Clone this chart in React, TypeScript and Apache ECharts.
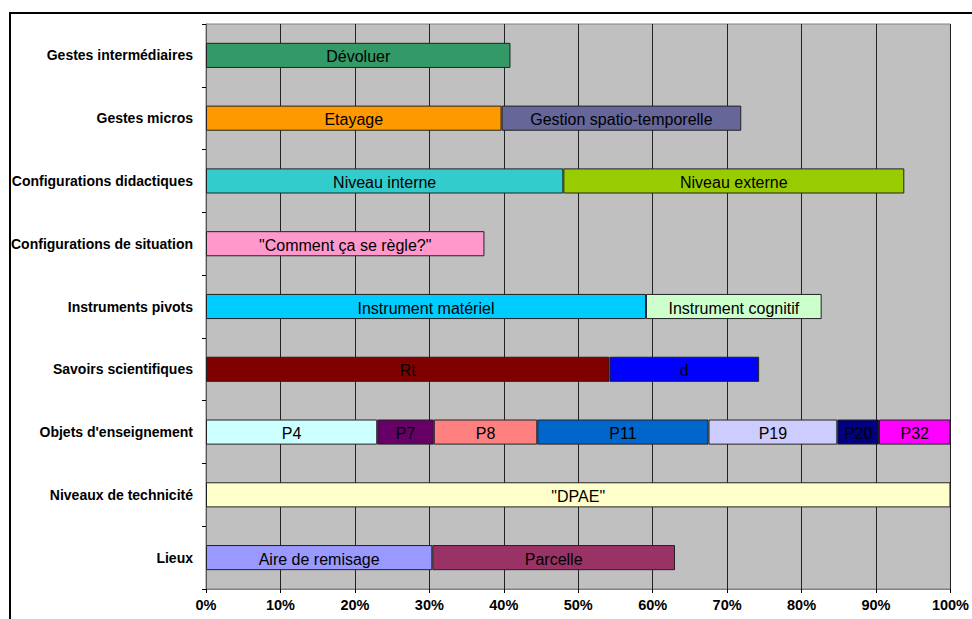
import React, { useEffect, useRef } from "react";
import * as echarts from "echarts";

const categories = [
  "Gestes intermédiaires",
  "Gestes micros",
  "Configurations didactiques",
  "Configurations de situation",
  "Instruments pivots",
  "Savoirs scientifiques",
  "Objets d'enseignement",
  "Niveaux de technicité",
  "Lieux",
];

const segmentNames = [
  "Dévoluer",
  "Etayage",
  "Gestion spatio-temporelle",
  "Niveau interne",
  "Niveau externe",
  "\"Comment ça se règle?\"",
  "Instrument matériel",
  "Instrument cognitif",
  "Rt",
  "d",
  "P4",
  "P7",
  "P8",
  "P11",
  "P19",
  "P20",
  "P32",
  "\"DPAE\"",
  "Aire de remisage",
  "Parcelle",
];

const segmentCategory = [0, 1, 1, 2, 2, 3, 4, 4, 5, 5, 6, 6, 6, 6, 6, 6, 6, 7, 8, 8];

const segmentValues = [
  40.9, 39.7, 32.2, 48.0, 45.8, 37.4, 59.1, 23.6, 54.2, 20.1, 23.0, 7.6, 13.9,
  23.0, 17.3, 5.6, 9.6, 100, 30.4, 32.6,
];

const segmentColors = [
  "#339966",
  "#FF9900",
  "#666699",
  "#33CCCC",
  "#99CC00",
  "#FF99CC",
  "#00CCFF",
  "#CCFFCC",
  "#800000",
  "#0000FF",
  "#CCFFFF",
  "#660066",
  "#FF8080",
  "#0066CC",
  "#CCCCFF",
  "#000080",
  "#FF00FF",
  "#FFFFCC",
  "#9999FF",
  "#993366",
];

const FONT = "'Liberation Sans', Arial, sans-serif";

export default function App() {
  const ref = useRef<HTMLDivElement>(null);

  useEffect(() => {
    if (!ref.current) return;
    const chart = echarts.init(ref.current, null, { renderer: "svg" });

    const series = segmentNames.map((name, i) => {
      const data = categories.map((_, ci) =>
        ci === segmentCategory[i] ? segmentValues[i] : "-"
      );
      return {
        name,
        type: "bar",
        stack: "total",
        barCategoryGap: "60%",
        data,
        itemStyle: {
          color: segmentColors[i],
          borderColor: "#222",
          borderWidth: 1,
        },
        label: {
          show: true,
          position: "inside",
          offset: [0, 1.5],
          formatter: "{a}",
          color: "#000",
          fontSize: 16,
          fontFamily: FONT,
        },
      };
    });

    chart.setOption({
      animation: false,
      backgroundColor: "#fff",
      grid: {
        left: 206,
        right: 21,
        top: 24,
        bottom: 30,
        show: true,
        backgroundColor: "#C0C0C0",
        borderColor: "#808080",
        borderWidth: 1,
      },
      xAxis: {
        type: "value",
        min: 0,
        max: 100,
        interval: 10,
        axisLine: { show: true, lineStyle: { color: "#808080" } },
        axisTick: { show: true, length: 4, lineStyle: { color: "#000" } },
        splitLine: { show: true, lineStyle: { color: "#222", width: 1 } },
        axisLabel: {
          formatter: "{value}%",
          color: "#000",
          fontWeight: "bold",
          fontSize: 14.5,
          fontFamily: FONT,
          margin: 8,
        },
      },
      yAxis: {
        type: "category",
        inverse: true,
        data: categories,
        axisLine: { show: true, lineStyle: { color: "#555" } },
        axisTick: { show: true, length: 4, inside: false, lineStyle: { color: "#000" } },
        splitLine: { show: false },
        axisLabel: {
          color: "#000",
          fontWeight: "bold",
          fontSize: 14,
          fontFamily: FONT,
          margin: 13,
        },
      },
      series,
      graphic: [
        {
          type: "line",
          shape: { x1: 9, y1: 13, x2: 972, y2: 13 },
          style: { stroke: "#000", lineWidth: 2 },
        },
        {
          type: "line",
          shape: { x1: 10, y1: 12, x2: 10, y2: 619 },
          style: { stroke: "#000", lineWidth: 2 },
        },
      ],
    });

    return () => chart.dispose();
  }, []);

  return (
    <div
      ref={ref}
      style={{ position: "fixed", left: 0, top: 0, width: 972, height: 619 }}
    />
  );
}
